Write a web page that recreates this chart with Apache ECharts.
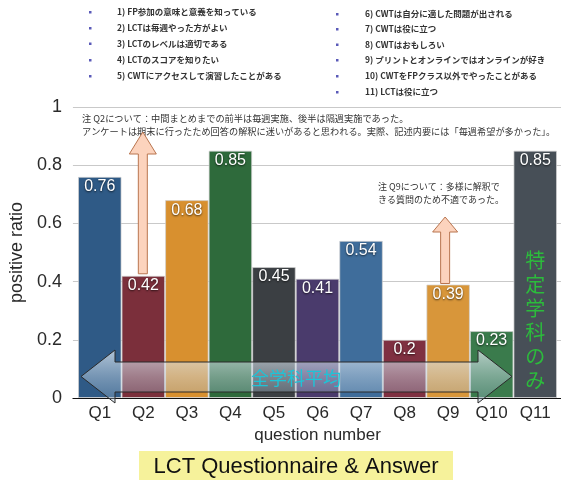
<!DOCTYPE html>
<html>
<head>
<meta charset="utf-8">
<script src="https://cdn.jsdelivr.net/npm/echarts@6/dist/echarts.min.js"></script>
<style>
html,body{margin:0;padding:0;background:#fff;}
#chart{width:561px;height:480px;}
</style>
</head>
<body>
<div id="chart"></div>
<script>
var categories = ['Q1','Q2','Q3','Q4','Q5','Q6','Q7','Q8','Q9','Q10','Q11'];
var values = [0.76, 0.42, 0.68, 0.85, 0.45, 0.41, 0.54, 0.2, 0.39, 0.23, 0.85];
var barColors = ['#2f5a86','#7b2f3b','#d8902f','#2e6a3b','#3b3f43','#4a3b6c','#3f6d9b','#7f3041','#d8963a','#3a7b4c','#474f57'];
var yTicks = [0, 0.2, 0.4, 0.6, 0.8, 1];
var listLeft = ['1) FP参加の意味と意義を知っている','2) LCTは毎週やった方がよい','3) LCTのレベルは適切である','4) LCTのスコアを知りたい','5) CWTにアクセスして演習したことがある'];
var listRight = ['6) CWTは自分に適した問題が出される','7) CWTは役に立つ','8) CWTはおもしろい','9) プリントとオンラインではオンラインが好き','10) CWTをFPクラス以外でやったことがある','11) LCTは役に立つ'];
var noteQ2 = ['注 Q2について：中間まとめまでの前半は毎週実施、後半は隔週実施であった。','アンケートは期末に行ったため回答の解釈に迷いがあると思われる。実際、記述内要には「毎週希望が多かった」。'];
var noteQ9 = ['注 Q9について：多様に解釈で','きる質問のため不適であった。'];
var avgLabel = '全学科平均';
var specialLabel = '特定学科のみ';
var title = 'LCT Questionnaire & Answer';

var chart = echarts.init(document.getElementById('chart'), null, {renderer:'canvas'});
var FONT = '"Liberation Sans", Arial, sans-serif';
var JP = '"Noto Sans CJK JP", sans-serif';

var option = {
  animation: false,
  backgroundColor: '#fff',
  grid: [
    {left: 68, right: 0, top: 107, bottom: 82},
    {left: 78, right: 4, top: 107, bottom: 82}
  ],
  xAxis: [
    {gridIndex: 0, type: 'value', min: 0, max: 1,
     axisLine: {show: true, lineStyle: {color: '#111', width: 1}},
     axisTick: {show: false}, axisLabel: {show: false}, splitLine: {show: false}},
    {gridIndex: 1, type: 'category', data: categories,
     axisLine: {show: false}, axisTick: {show: false},
     axisLabel: {color: '#2a2a2a', fontSize: 17, fontFamily: FONT, margin: 7},
     name: 'question number', nameLocation: 'middle', nameGap: 27,
     nameTextStyle: {color: '#2a2a2a', fontSize: 17, fontFamily: FONT}}
  ],
  yAxis: [
    {gridIndex: 0, type: 'value', min: 0, max: 1, interval: 0.2,
     axisLine: {show: false}, axisTick: {show: false},
     axisLabel: {color: '#2a2a2a', fontSize: 18, fontFamily: FONT, margin: 11,
       formatter: function (v) { return String(Math.round(v * 10) / 10); }},
     splitLine: {show: true, lineStyle: {color: '#c9c9c9', width: 1}},
     name: 'positive ratio', nameLocation: 'middle', nameGap: 34,
     nameTextStyle: {color: '#2a2a2a', fontSize: 18, fontFamily: FONT}},
    {gridIndex: 1, type: 'value', min: 0, max: 1, show: false}
  ],
  series: [{
    type: 'bar', xAxisIndex: 1, yAxisIndex: 1,
    barCategoryGap: '0%',
    data: values.map(function (v, i) {
      return {value: v, itemStyle: {color: barColors[i]}};
    }),
    itemStyle: {borderColor: 'rgba(210,210,210,0.7)', borderWidth: 1},
    label: {show: true, position: 'insideTop', distance: 2, color: '#fff',
      fontSize: 16, fontFamily: FONT,
      textShadowColor: 'rgba(0,0,0,0.7)', textShadowBlur: 2, textShadowOffsetY: 1}
  }]
};
chart.setOption(option);

function px(cat, v) { return chart.convertToPixel({xAxisIndex: 1, yAxisIndex: 1}, [cat, v]); }

var g = [];
// top lists
listLeft.forEach(function (t, i) {
  var y = [12, 28, 43.5, 60, 76][i];
  g.push({type: 'rect', shape: {x: 89, y: y - 1, width: 2.5, height: 2.5}, style: {fill: '#5a5ab8'}});
  g.push({type: 'text', style: {text: t, x: 117, y: y, font: 'bold 8.5px ' + JP, fill: '#333', textVerticalAlign: 'middle'}});
});
listRight.forEach(function (t, i) {
  var y = [14, 29, 44.5, 60, 76, 92][i];
  g.push({type: 'rect', shape: {x: 336, y: y - 1, width: 2.5, height: 2.5}, style: {fill: '#5a5ab8'}});
  g.push({type: 'text', style: {text: t, x: 365, y: y, font: 'bold 8.5px ' + JP, fill: '#333', textVerticalAlign: 'middle'}});
});
// notes
noteQ2.forEach(function (t, i) {
  g.push({type: 'text', style: {text: t, x: 82, y: [118.5, 131.5][i], font: '9.2px ' + JP, fill: '#333', textVerticalAlign: 'middle'}});
});
noteQ9.forEach(function (t, i) {
  g.push({type: 'text', style: {text: t, x: 378, y: [187, 200][i], font: '9px ' + JP, fill: '#333', textVerticalAlign: 'middle'}});
});

// small up arrows from bar tops
function upArrow(cx, tipY, headY, baseY, hw, sw) {
  return {type: 'polygon', z: 20,
    shape: {points: [[cx, tipY], [cx + hw, headY], [cx + sw, headY], [cx + sw, baseY], [cx - sw, baseY], [cx - sw, headY], [cx - hw, headY]]},
    style: {fill: '#fcd3bd', stroke: '#b9754f', lineWidth: 1}};
}
var p2 = px('Q2', values[1]);
g.push(upArrow(p2[0] - 0.5, 132, 154, p2[1] - 2, 13.5, 4.5));
var p9 = px('Q9', values[8]);
g.push(upArrow(p9[0] - 3, 217, 232, p9[1] - 1, 12.5, 4.5));

// big double arrow
var L = 81, R = 512, cy = 376.5, hb1 = 115, hb2 = 478;
g.push({type: 'polygon', z: 30,
  shape: {points: [[L, cy], [hb1, 350], [hb1, 362], [hb2, 362], [hb2, 350], [R, cy], [hb2, 403], [hb2, 392], [hb1, 392], [hb1, 403]]},
  style: {
    fill: new echarts.graphic.LinearGradient(0, 0, 0, 1, [
      {offset: 0, color: 'rgba(235,243,250,0.7)'},
      {offset: 0.5, color: 'rgba(205,222,236,0.45)'},
      {offset: 1, color: 'rgba(150,180,205,0.3)'}
    ]),
    stroke: '#2a2a2a', lineWidth: 1}});
g.push({type: 'text', z: 31, style: {text: avgLabel, x: 296, y: 378, font: '18px ' + JP, fill: '#1fc3d6', textAlign: 'center', textVerticalAlign: 'middle'}});

// vertical text on Q11
var p11 = px('Q11', 0);
specialLabel.split('').forEach(function (c, i) {
  g.push({type: 'text', z: 31, style: {text: c, x: p11[0], y: 260 + i * 24, font: '20px ' + JP, fill: '#2cbb3c', textAlign: 'center', textVerticalAlign: 'middle'}});
});

// title
g.push({type: 'rect', z: 5, shape: {x: 139, y: 451, width: 314, height: 29}, style: {fill: '#f6f29b'}});
g.push({type: 'text', z: 6, style: {text: title, x: 296, y: 467, font: '22px ' + FONT, fill: '#111', textAlign: 'center', textVerticalAlign: 'middle'}});

chart.setOption({graphic: g});
</script>
</body>
</html>
